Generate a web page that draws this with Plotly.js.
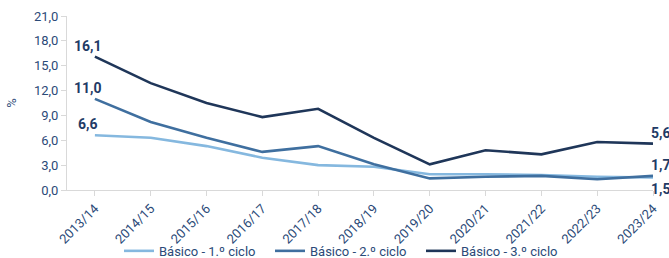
<!DOCTYPE html>
<html><head><meta charset="utf-8">
<script src="https://cdn.plot.ly/plotly-3.0.1.min.js"></script>
<style>html,body{margin:0;padding:0;background:#fff}#chart{width:669px;height:258px}</style>
</head><body><div id="chart"></div>
<script>
const categories = ["2013/14","2014/15","2015/16","2016/17","2017/18","2018/19","2019/20","2020/21","2021/22","2022/23","2023/24"];
const ciclo1 = [6.6, 6.3, 5.3, 3.9, 3.0, 2.8, 1.9, 1.9, 1.8, 1.6, 1.5];
const ciclo2 = [11.0, 8.2, 6.3, 4.6, 5.3, 3.1, 1.4, 1.6, 1.7, 1.3, 1.7];
const ciclo3 = [16.1, 12.9, 10.5, 8.8, 9.8, 6.3, 3.1, 4.8, 4.3, 5.8, 5.6];
const names = ["Básico - 1.º ciclo", "Básico - 2.º ciclo", "Básico - 3.º ciclo"];
const colors = ["#85b8df", "#3f6f9f", "#1f3659"];
const labelColor = "#1f3b66";
const textColor = "#2b4a78";

const series = [ciclo1, ciclo2, ciclo3];
const traces = series.map((s, i) => ({
  x: categories, y: s, type: "scatter", mode: "lines", name: names[i],
  line: {color: colors[i], width: 2.6}, hoverinfo: "skip", cliponaxis: false
}));

const fmt = v => v.toFixed(1).replace(".", ",");
const annotations = [];
const last = categories.length - 1;
const endBelow = [true, false, false];
series.forEach((s, i) => {
  annotations.push({x: categories[0], y: s[0], text: "<b>" + fmt(s[0]) + "</b>", showarrow: false,
    xanchor: "center", yanchor: "bottom", xshift: -7, yshift: 1,
    font: {family: "Roboto", size: 14, color: labelColor}});
  annotations.push({x: categories[last], y: s[last], text: "<b>" + fmt(s[last]) + "</b>", showarrow: false,
    xanchor: "left", yanchor: endBelow[i] ? "top" : "bottom", xshift: -4, yshift: endBelow[i] ? -1 : 1,
    font: {family: "Roboto", size: 14, color: labelColor}});
});

const layout = {
  width: 669, height: 258,
  margin: {l: 67, r: 16, t: 16, b: 68, autoexpand: false},
  paper_bgcolor: "#fff", plot_bgcolor: "#fff",
  separators: ", ",
  font: {family: "Roboto", size: 13, color: textColor},
  showlegend: true,
  legend: {orientation: "h", x: 0.0887, xanchor: "left", y: -0.35, yanchor: "middle",
    entrywidth: 106, entrywidthmode: "pixels",
    bgcolor: "rgba(0,0,0,0)", font: {family: "Roboto", size: 13, color: textColor}},
  xaxis: {type: "category", range: [-0.5, 10], showgrid: false, zeroline: false, automargin: false,
    showline: true, linecolor: "#d9d9d9", linewidth: 1,
    ticks: "outside", ticklen: 5, tickcolor: "#d9d9d9", tickangle: -45,
    tickfont: {family: "Roboto", size: 13, color: textColor}},
  yaxis: {range: [0, 21], dtick: 3, tickformat: ".1f", showgrid: false, zeroline: false, automargin: false,
    showline: true, linecolor: "#d9d9d9", linewidth: 1,
    ticks: "outside", ticklen: 5, tickcolor: "#d9d9d9",
    tickfont: {family: "Roboto", size: 13, color: textColor},
    title: {text: "%", font: {family: "Roboto", size: 13, color: textColor}, standoff: 14}},
  annotations: annotations
};
Plotly.newPlot("chart", traces, layout, {staticPlot: true, displayModeBar: false});
</script></body></html>
